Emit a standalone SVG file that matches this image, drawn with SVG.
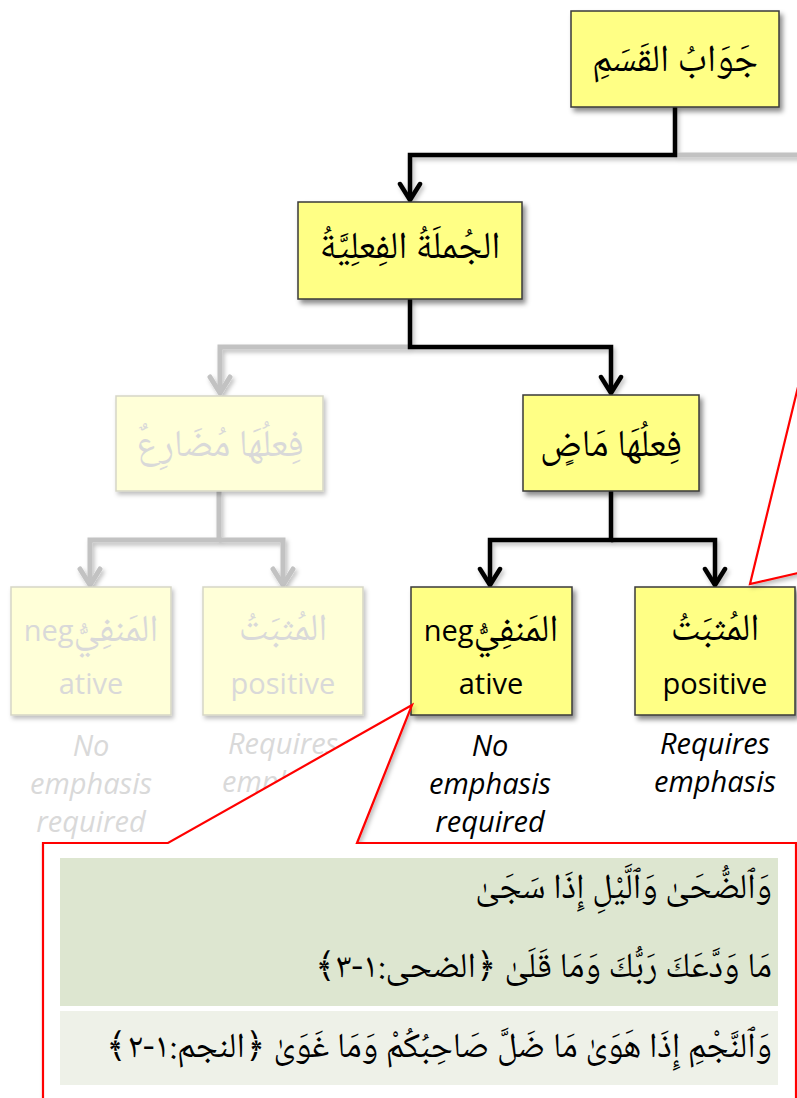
<svg xmlns="http://www.w3.org/2000/svg" width="797" height="1098" viewBox="0 0 797 1098">
<style>
.box{fill:#ffff85;stroke:#3a3a3a;stroke-width:1.5}
.fbox{fill:#ffffd8;stroke:#d6d6c6;stroke-width:1.5}
.ar{font-family:'Noto Naskh Arabic','Amiri','DejaVu Sans',sans-serif;font-size:38px;fill:#000;text-anchor:middle}
.far{fill:#d9d9d9}
.lt{font-family:'Open Sans','DejaVu Sans',sans-serif;font-size:29px}
.lat{font-family:'Open Sans','DejaVu Sans',sans-serif;font-size:29px;fill:#000;text-anchor:middle}
.it{font-family:'Open Sans','DejaVu Sans',sans-serif;font-size:29px;font-style:italic;fill:#000;text-anchor:middle}
.fl{fill:#d9d9d9}
.blk{fill:none;stroke:#000;stroke-width:4.5;stroke-linejoin:miter}
.gry{fill:none;stroke:#c2c2c2;stroke-width:5;stroke-linejoin:miter}
.q{font-family:'Noto Naskh Arabic','Amiri','DejaVu Sans',sans-serif;font-size:35px;fill:#000;direction:rtl;text-anchor:start}
.orn{font-family:'DejaVu Sans',sans-serif}
.callout{fill:#fff;stroke:#f00;stroke-width:2.2;stroke-linejoin:miter}
</style>
<defs>
<filter id="sh" x="-20%" y="-20%" width="150%" height="150%">
<feDropShadow dx="3" dy="4" stdDeviation="2.5" flood-color="#000" flood-opacity="0.45"/>
</filter>
<filter id="shl" x="-20%" y="-20%" width="150%" height="150%">
<feDropShadow dx="2" dy="3" stdDeviation="2" flood-color="#000" flood-opacity="0.25"/>
</filter>
<marker id="ab" viewBox="0 0 22 26" refX="19" refY="13" markerWidth="22" markerHeight="26" markerUnits="userSpaceOnUse" orient="auto">
<path d="M3,3 L19,13 L3,23" fill="none" stroke="#000" stroke-width="4.5" stroke-linecap="round" stroke-linejoin="round"/>
</marker>
<marker id="ag" viewBox="0 0 22 26" refX="19" refY="13" markerWidth="22" markerHeight="26" markerUnits="userSpaceOnUse" orient="auto">
<path d="M3,3 L19,13 L3,23" fill="none" stroke="#c2c2c2" stroke-width="5" stroke-linecap="round" stroke-linejoin="round"/>
</marker>
</defs>
<rect width="797" height="1098" fill="#fff"/>

<g id="connectors" filter="url(#shl)">
<path class="gry" d="M675,155 H800"/>
<path class="gry" d="M410,347 H220 V393" marker-end="url(#ag)"/>
<path class="gry" d="M219,491 V540 H90 V585" marker-end="url(#ag)"/>
<path class="gry" d="M219,540 H283 V585" marker-end="url(#ag)"/>
<path class="blk" d="M675,107 V155 H410 V200" marker-end="url(#ab)"/>
<path class="blk" d="M410,299 V347 H611 V393" marker-end="url(#ab)"/>
<path class="blk" d="M611,491 V540 H490 V585" marker-end="url(#ab)"/>
<path class="blk" d="M611,540 H715 V585" marker-end="url(#ab)"/>
</g>

<g id="n-jawab">
<rect class="box" x="571" y="11" width="208" height="96" filter="url(#sh)"/>
<text class="ar" x="675" y="71">جَوَابُ القَسَمِ</text>
</g>
<g id="n-jumla">
<rect class="box" x="298" y="202" width="224" height="97" filter="url(#sh)"/>
<text class="ar" x="410" y="258">الجُملَةُ الفِعلِيَّةُ</text>
</g>
<g id="n-mudari">
<rect class="fbox" x="116" y="396" width="207" height="95" filter="url(#shl)"/>
<text class="ar far" x="220" y="456">فِعلُهَا مُضَارِعٌ</text>
</g>
<g id="n-madi">
<rect class="box" x="523" y="395" width="176" height="96" filter="url(#sh)"/>
<text class="ar" x="611" y="456">فِعلُهَا مَاضٍ</text>
</g>
<g id="n-fneg">
<rect class="fbox" x="11" y="587" width="160" height="128" filter="url(#shl)"/>
<text class="ar far" x="91" y="641"><tspan class="lt">neg</tspan>المَنفِيُّ</text>
<text class="lat fl" x="91" y="694">ative</text>
<text class="it fl" x="91" y="756">No</text>
<text class="it fl" x="91" y="794">emphasis</text>
<text class="it fl" x="91" y="832">required</text>
</g>
<g id="n-fpos">
<rect class="fbox" x="203" y="587" width="160" height="128" filter="url(#shl)"/>
<text class="ar far" x="283" y="640">المُثبَتُ</text>
<text class="lat fl" x="283" y="694">positive</text>
<text class="it fl" x="283" y="754">Requires</text>
<text class="it fl" x="283" y="792">emphasis</text>
</g>
<g id="n-neg">
<rect class="box" x="411" y="587" width="161" height="128" filter="url(#sh)"/>
<text class="ar" x="491" y="641"><tspan class="lt">neg</tspan>المَنفِيُّ</text>
<text class="lat" x="491" y="694">ative</text>
<text class="it" x="490" y="756">No</text>
<text class="it" x="490" y="794">emphasis</text>
<text class="it" x="490" y="832">required</text>
</g>
<g id="n-pos">
<rect class="box" x="635" y="587" width="160" height="128" filter="url(#sh)"/>
<text class="ar" x="715" y="640">المُثبَتُ</text>
<text class="lat" x="715" y="694">positive</text>
<text class="it" x="715" y="754">Requires</text>
<text class="it" x="715" y="792">emphasis</text>
</g>

<g id="callout-right">
<path class="callout" d="M798,387 L750,584 L798,573" filter="url(#shl)"/>
</g>
<g id="callout-examples">
<path class="callout" d="M43,1102 V843 H168 L412,705 L357,843 H796 V1102" filter="url(#shl)"/>
<rect x="60" y="858" width="718" height="148" fill="#dde6d0"/>
<rect x="60" y="1011" width="718" height="74" fill="#eef1e8"/>
<text class="q" x="772" y="898">وَٱلضُّحَىٰ وَٱلَّيْلِ إِذَا سَجَىٰ</text>
<text class="q" x="772" y="977">مَا وَدَّعَكَ رَبُّكَ وَمَا قَلَىٰ <tspan class="orn">﴿</tspan>الضحى:١-٣<tspan class="orn">﴾</tspan></text>
<text class="q" x="772" y="1057">وَٱلنَّجْمِ إِذَا هَوَىٰ مَا ضَلَّ صَاحِبُكُمْ وَمَا غَوَىٰ <tspan class="orn">﴿</tspan>النجم:١-٢<tspan class="orn">﴾</tspan></text>
</g>
</svg>
